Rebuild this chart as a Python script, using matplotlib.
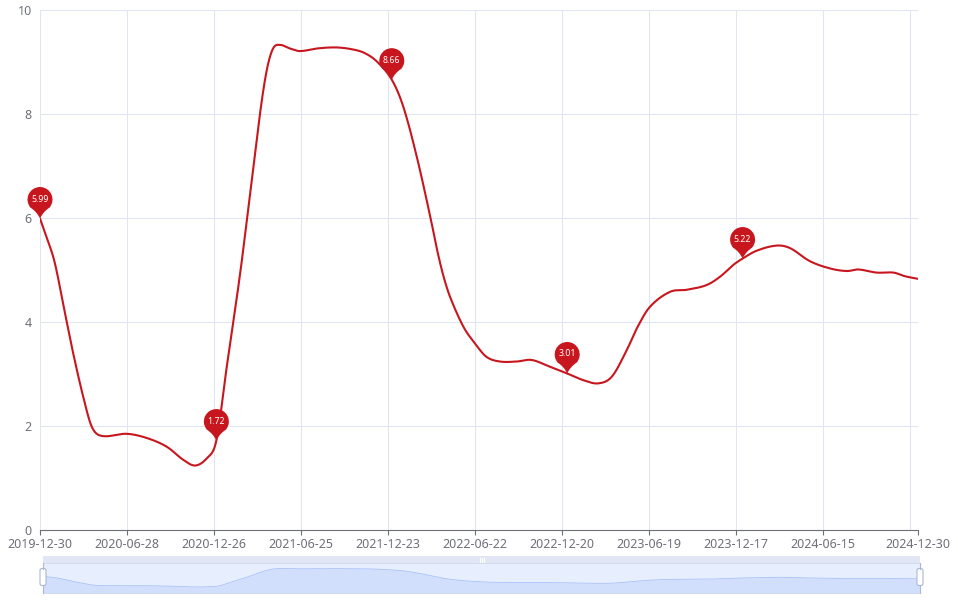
import numpy as np
import pandas as pd
import matplotlib
matplotlib.use("Agg")
import matplotlib.pyplot as plt
from matplotlib.path import Path
from matplotlib.patches import PathPatch, FancyBboxPatch
import matplotlib.transforms as mtransforms
from matplotlib.lines import Line2D

plt.rcParams['font.family'] = ['Noto Sans', 'DejaVu Sans']

# ---------------- data ----------------
dates = ["2019-12-30", "2020-01-14", "2020-01-30", "2020-02-20", "2020-03-08", "2020-03-29",
         "2020-04-16", "2020-05-06", "2020-06-27", "2020-08-08", "2020-09-19", "2020-10-23",
         "2020-11-17", "2020-12-11", "2020-12-31", "2021-01-21", "2021-02-18", "2021-03-07",
         "2021-04-01", "2021-04-15", "2021-04-28", "2021-05-12", "2021-06-02", "2021-06-23",
         "2021-07-28", "2021-09-07", "2021-10-12", "2021-11-05", "2021-11-30", "2021-12-31",
         "2022-01-24", "2022-02-21", "2022-03-21", "2022-04-04", "2022-04-17", "2022-05-01",
         "2022-05-29", "2022-06-22", "2022-07-16", "2022-08-13", "2022-09-17", "2022-10-18",
         "2022-11-25", "2022-12-31", "2023-02-03", "2023-03-06", "2023-04-03", "2023-05-04",
         "2023-05-25", "2023-06-21", "2023-08-02", "2023-09-06", "2023-10-17", "2023-11-14",
         "2023-12-12", "2023-12-31", "2024-01-29", "2024-03-11", "2024-04-08", "2024-05-19",
         "2024-06-30", "2024-08-04", "2024-08-28", "2024-10-05", "2024-11-09", "2024-12-03",
         "2024-12-30"]
values = [5.99, 5.60, 5.13, 4.17, 3.40, 2.56,
          1.98, 1.81, 1.85, 1.77, 1.60, 1.35,
          1.24, 1.38, 1.72, 3.10, 4.90, 6.15,
          8.02, 8.85, 9.26, 9.33, 9.26, 9.21,
          9.26, 9.28, 9.24, 9.17, 9.01, 8.66,
          8.14, 7.18, 6.03, 5.40, 4.90, 4.49,
          3.91, 3.59, 3.33, 3.24, 3.24, 3.27,
          3.14, 3.01, 2.88, 2.82, 2.95, 3.46,
          3.88, 4.29, 4.58, 4.62, 4.71, 4.87,
          5.10, 5.22, 5.37, 5.47, 5.42, 5.17,
          5.03, 4.98, 5.01, 4.95, 4.95, 4.88,
          4.83]

mark_dates = ["2019-12-30", "2020-12-31", "2021-12-31", "2022-12-31", "2023-12-31"]
mark_labels = ["5.99", "1.72", "8.66", "3.01", "5.22"]

x_tick_labels = ["2019-12-30", "2020-06-28", "2020-12-26", "2021-06-25", "2021-12-23",
                 "2022-06-22", "2022-12-20", "2023-06-19", "2023-12-17", "2024-06-15",
                 "2024-12-30"]
y_ticks = [0, 2, 4, 6, 8, 10]

# ---------------- helpers ----------------
base = pd.Timestamp(dates[0])
end = pd.Timestamp(dates[-1])
def day_idx(ds):
    return np.array([(pd.Timestamp(d) - base).days for d in ds], dtype=float)

xs = day_idx(dates)
ys = np.array(values)
n_days = (end - base).days

def smooth_curve(x, y, per=40):
    # cubic Hermite with Catmull-Rom style tangents (rendering only)
    m = np.zeros_like(y)
    m[1:-1] = (y[2:] - y[:-2]) / (x[2:] - x[:-2])
    m[0] = (y[1] - y[0]) / (x[1] - x[0])
    m[-1] = (y[-1] - y[-2]) / (x[-1] - x[-2])
    X, Y = [], []
    for i in range(len(x) - 1):
        h = x[i + 1] - x[i]
        t = np.linspace(0, 1, per, endpoint=False)
        h00 = 2 * t**3 - 3 * t**2 + 1
        h10 = t**3 - 2 * t**2 + t
        h01 = -2 * t**3 + 3 * t**2
        h11 = t**3 - t**2
        X.append(x[i] + t * h)
        Y.append(h00 * y[i] + h10 * h * m[i] + h01 * y[i + 1] + h11 * h * m[i + 1])
    X.append([x[-1]]); Y.append([y[-1]])
    return np.concatenate(X), np.concatenate(Y)

sx, sy = smooth_curve(xs, ys)

W, H = 958, 600
fig = plt.figure(figsize=(W / 100, H / 100), dpi=100)
fig.patch.set_facecolor('white')

# main axes: x 40..918 px, y 10..530 px
ax = fig.add_axes([40 / W, (H - 530) / H, 878 / W, 520 / H])
ax.set_xlim(0, n_days)
ax.set_ylim(0, 10)
ax.set_facecolor('white')

red = '#C8161E'
axis_col = '#6E7079'
grid_col = '#E0E6F1'

# grid
for yv in y_ticks[1:]:
    ax.axhline(yv, color=grid_col, lw=0.75, zorder=0)
grid_x = list(np.arange(0, n_days + 1, 181)) + [n_days]
for gx in grid_x:
    ax.axvline(gx, color=grid_col, lw=0.75, zorder=0)

for s in ['top', 'right', 'left']:
    ax.spines[s].set_visible(False)
ax.spines['bottom'].set_color(axis_col)
ax.spines['bottom'].set_linewidth(0.8)

ax.set_yticks(y_ticks)
ax.set_yticklabels([str(v) for v in y_ticks])
ax.tick_params(axis='y', length=0, pad=6, labelcolor=axis_col, labelsize=9)
xt = day_idx(x_tick_labels)
ax.set_xticks(xt)
ax.set_xticklabels(x_tick_labels)
ax.tick_params(axis='x', length=3.6, width=0.8, color=axis_col, pad=2,
               labelcolor=axis_col, labelsize=9)

ax.plot(sx, sy, color=red, lw=1.5, zorder=3, solid_capstyle='round')

# mark points (pins)
def pin_path(r=12.5, c=19.0):
    arc = Path.arc(-41, 221)
    v = arc.vertices * r + np.array([0, c])
    codes = list(arc.codes)
    verts = list(map(tuple, v))
    start = verts[0]
    last = verts[-1]
    verts += [(last[0] * 0.35, 7.0), (0.0, 0.0), (start[0] * 0.35, 7.0), start, start]
    codes += [Path.CURVE3, Path.CURVE3, Path.CURVE3, Path.CURVE3, Path.CLOSEPOLY]
    verts = np.array(verts) / 100.0  # pixels -> inches at 100 dpi
    return Path(verts, codes)

pp = pin_path()
mx = day_idx(mark_dates)
for d, lab in zip(mx, mark_labels):
    yv = float(np.interp(d, xs, ys))
    tr = fig.dpi_scale_trans + mtransforms.ScaledTranslation(d, yv, ax.transData)
    patch = PathPatch(pp, facecolor=red, edgecolor='none', transform=tr, zorder=5, clip_on=False)
    ax.add_artist(patch)
    ttr = mtransforms.offset_copy(ax.transData, fig=fig, x=0, y=19.5, units='dots')
    ax.text(d, yv, lab, transform=ttr, ha='center', va='center', color='white',
            fontsize=6.3, fontweight='bold', zorder=6, clip_on=False)

# ---------------- data zoom slider ----------------
sl_left, sl_right = 43, 920
band_top, area_top, area_bot = 556, 563, 592.5
axs = fig.add_axes([sl_left / W, (H - area_bot) / H, (sl_right - sl_left) / W,
                    (area_bot - area_top) / H])
axs.set_facecolor('#E7EEFE')
axs.set_xlim(0, n_days)
vmin, vmax = ys.min(), ys.max()
off = (vmax - vmin) * 0.3
axs.set_ylim(vmin - off, vmax + off)
axs.fill_between(sx, vmin - off, sy, color='#D2DFFC', lw=0)
axs.plot(sx, sy, color='#A9C1F7', lw=0.6)
axs.set_xticks([]); axs.set_yticks([])
for s in axs.spines.values():
    s.set_color('#D2DBEE')
    s.set_linewidth(0.7)

axb = fig.add_axes([sl_left / W, (H - area_top) / H, (sl_right - sl_left) / W,
                    (area_top - band_top) / H])
axb.set_facecolor('#E0E6F3')
axb.set_xticks([]); axb.set_yticks([])
for s in axb.spines.values():
    s.set_visible(False)

pix = mtransforms.Affine2D().scale(1, -1).translate(0, H) + \
      mtransforms.Affine2D().scale(fig.dpi / 100.0)

# grip mark
cx = (sl_left + sl_right) / 2
for dx in (-2, 0, 2):
    fig.add_artist(Line2D([cx + dx, cx + dx], [558, 561.5], color='white', lw=0.9,
                          transform=pix, solid_capstyle='round'))

# handles
for hx in (sl_left, sl_right):
    fig.add_artist(Line2D([hx, hx], [area_top, 568.5], color='#ACB8D1', lw=0.8, transform=pix))
    fig.add_artist(Line2D([hx, hx], [585.5, area_bot], color='#ACB8D1', lw=0.8, transform=pix))
    fig.add_artist(FancyBboxPatch((hx - 3, 568.5), 6, 17,
                                  boxstyle='round,pad=0,rounding_size=2',
                                  facecolor='white', edgecolor='#ACB8D1', lw=0.8,
                                  transform=pix))

fig.savefig('out.png', dpi=100, facecolor='white')
